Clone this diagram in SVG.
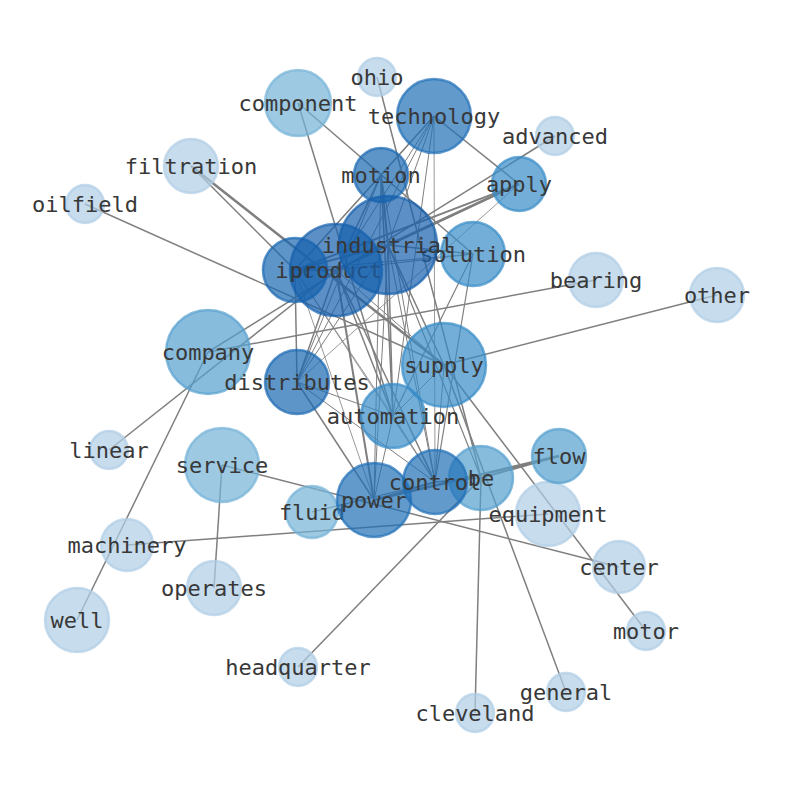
<svg xmlns="http://www.w3.org/2000/svg" width="794" height="790" viewBox="0 0 794 790">
<style>
.edges line{stroke:#7f7f7f;fill:none;stroke-linecap:butt}
.node circle{stroke-width:2.5;fill-opacity:0.7;stroke-opacity:0.7}
.L circle{fill:#afcde5;stroke:#afcde5}
.ML circle{fill:#73b2d7;stroke:#73b2d7}
.ML2 circle{fill:#559fce;stroke:#559fce}
.M circle{fill:#368bc7;stroke:#368bc7}
.D2 circle{fill:#1f6fb7;stroke:#1f6fb7}
.D3 circle{fill:#1a68b2;stroke:#1a68b2}
.D4 circle{fill:#1660ad;stroke:#1660ad}
.node text{font-family:"DejaVu Sans Mono","Liberation Mono",monospace;font-size:22px;fill:#383838;text-anchor:middle;dominant-baseline:central}
</style>
<rect width="794" height="790" fill="#ffffff"/>
<g id="connectors" class="edges">
<line x1="377" y1="77" x2="481" y2="478" stroke-width="1.5"/>
<line x1="298" y1="103" x2="473" y2="254" stroke-width="1.5"/>
<line x1="298" y1="103" x2="393" y2="416" stroke-width="1.5"/>
<line x1="434" y1="116" x2="519" y2="184" stroke-width="1.5"/>
<line x1="555" y1="136" x2="208" y2="352" stroke-width="1.5"/>
<line x1="191" y1="166" x2="444" y2="365" stroke-width="2.5"/>
<line x1="191" y1="166" x2="295" y2="270" stroke-width="1.5"/>
<line x1="85" y1="204" x2="444" y2="365" stroke-width="1.5"/>
<line x1="596" y1="280" x2="208" y2="352" stroke-width="1.5"/>
<line x1="717" y1="295" x2="444" y2="365" stroke-width="1.5"/>
<line x1="109" y1="450" x2="336" y2="270" stroke-width="1.5"/>
<line x1="77" y1="620" x2="208" y2="352" stroke-width="1.5"/>
<line x1="222" y1="465" x2="214" y2="588" stroke-width="1.5"/>
<line x1="222" y1="465" x2="619" y2="567" stroke-width="1.5"/>
<line x1="127" y1="545" x2="548" y2="514" stroke-width="1.5"/>
<line x1="298" y1="667" x2="481" y2="478" stroke-width="1.5"/>
<line x1="475" y1="713" x2="481" y2="478" stroke-width="1.5"/>
<line x1="566" y1="692" x2="444" y2="365" stroke-width="1.5"/>
<line x1="646" y1="631" x2="444" y2="365" stroke-width="1.5"/>
<line x1="559" y1="456" x2="374" y2="500" stroke-width="2.5"/>
<line x1="312" y1="512" x2="435" y2="482" stroke-width="1.2"/>
<line x1="434" y1="116" x2="381" y2="175" stroke-width="1.5"/>
<line x1="434" y1="116" x2="388" y2="245" stroke-width="1"/>
<line x1="434" y1="116" x2="336" y2="270" stroke-width="1"/>
<line x1="434" y1="116" x2="295" y2="270" stroke-width="1"/>
<line x1="434" y1="116" x2="297" y2="382" stroke-width="1"/>
<line x1="434" y1="116" x2="393" y2="416" stroke-width="1"/>
<line x1="434" y1="116" x2="435" y2="482" stroke-width="0.8"/>
<line x1="381" y1="175" x2="388" y2="245" stroke-width="2"/>
<line x1="381" y1="175" x2="336" y2="270" stroke-width="1.5"/>
<line x1="381" y1="175" x2="295" y2="270" stroke-width="1.5"/>
<line x1="381" y1="175" x2="297" y2="382" stroke-width="1"/>
<line x1="381" y1="175" x2="393" y2="416" stroke-width="1.5"/>
<line x1="381" y1="175" x2="435" y2="482" stroke-width="1"/>
<line x1="381" y1="175" x2="374" y2="500" stroke-width="1"/>
<line x1="388" y1="245" x2="519" y2="184" stroke-width="2.5"/>
<line x1="336" y1="270" x2="519" y2="184" stroke-width="2"/>
<line x1="295" y1="270" x2="519" y2="184" stroke-width="2"/>
<line x1="297" y1="382" x2="519" y2="184" stroke-width="0.8"/>
<line x1="388" y1="245" x2="473" y2="254" stroke-width="1.5"/>
<line x1="336" y1="270" x2="473" y2="254" stroke-width="1"/>
<line x1="295" y1="270" x2="473" y2="254" stroke-width="1"/>
<line x1="388" y1="245" x2="336" y2="270" stroke-width="2"/>
<line x1="388" y1="245" x2="295" y2="270" stroke-width="2"/>
<line x1="336" y1="270" x2="295" y2="270" stroke-width="2.5"/>
<line x1="388" y1="245" x2="297" y2="382" stroke-width="1"/>
<line x1="336" y1="270" x2="297" y2="382" stroke-width="1.5"/>
<line x1="295" y1="270" x2="297" y2="382" stroke-width="1.5"/>
<line x1="388" y1="245" x2="444" y2="365" stroke-width="1.5"/>
<line x1="336" y1="270" x2="444" y2="365" stroke-width="1"/>
<line x1="388" y1="245" x2="393" y2="416" stroke-width="1.5"/>
<line x1="336" y1="270" x2="393" y2="416" stroke-width="1.5"/>
<line x1="295" y1="270" x2="393" y2="416" stroke-width="0.8"/>
<line x1="388" y1="245" x2="435" y2="482" stroke-width="1"/>
<line x1="336" y1="270" x2="435" y2="482" stroke-width="1.5"/>
<line x1="295" y1="270" x2="435" y2="482" stroke-width="0.8"/>
<line x1="388" y1="245" x2="374" y2="500" stroke-width="1"/>
<line x1="336" y1="270" x2="374" y2="500" stroke-width="2"/>
<line x1="295" y1="270" x2="374" y2="500" stroke-width="0.8"/>
<line x1="388" y1="245" x2="481" y2="478" stroke-width="1.2"/>
<line x1="473" y1="254" x2="393" y2="416" stroke-width="1.2"/>
<line x1="473" y1="254" x2="435" y2="482" stroke-width="1.2"/>
<line x1="444" y1="365" x2="393" y2="416" stroke-width="1"/>
<line x1="444" y1="365" x2="435" y2="482" stroke-width="1"/>
<line x1="297" y1="382" x2="393" y2="416" stroke-width="1"/>
<line x1="297" y1="382" x2="435" y2="482" stroke-width="1"/>
<line x1="297" y1="382" x2="374" y2="500" stroke-width="1.5"/>
<line x1="393" y1="416" x2="435" y2="482" stroke-width="1"/>
<line x1="393" y1="416" x2="374" y2="500" stroke-width="1"/>
<line x1="435" y1="482" x2="374" y2="500" stroke-width="2"/>
<line x1="435" y1="482" x2="481" y2="478" stroke-width="1.5"/>
<line x1="481" y1="478" x2="559" y2="456" stroke-width="2"/>
</g>
<g id="nodes">
<g id="ohio" class="node L"><circle cx="377" cy="77" r="19"/><text x="377" y="77">ohio</text></g>
<g id="advanced" class="node L"><circle cx="555" cy="136" r="19"/><text x="555" y="136">advanced</text></g>
<g id="oilfield" class="node L"><circle cx="85" cy="204" r="19"/><text x="85" y="204">oilfield</text></g>
<g id="filtration" class="node L"><circle cx="191" cy="166" r="27"/><text x="191" y="166">filtration</text></g>
<g id="bearing" class="node L"><circle cx="596" cy="280" r="27"/><text x="596" y="280">bearing</text></g>
<g id="other" class="node L"><circle cx="717" cy="295" r="27"/><text x="717" y="295">other</text></g>
<g id="linear" class="node L"><circle cx="109" cy="450" r="19"/><text x="109" y="450">linear</text></g>
<g id="machinery" class="node L"><circle cx="127" cy="545" r="26"/><text x="127" y="545">machinery</text></g>
<g id="operates" class="node L"><circle cx="214" cy="588" r="27"/><text x="214" y="588">operates</text></g>
<g id="well" class="node L"><circle cx="77" cy="620" r="32"/><text x="77" y="620">well</text></g>
<g id="center" class="node L"><circle cx="619" cy="567" r="26"/><text x="619" y="567">center</text></g>
<g id="motor" class="node L"><circle cx="646" cy="631" r="19"/><text x="646" y="631">motor</text></g>
<g id="headquarter" class="node L"><circle cx="298" cy="667" r="19"/><text x="298" y="667">headquarter</text></g>
<g id="general" class="node L"><circle cx="566" cy="692" r="19"/><text x="566" y="692">general</text></g>
<g id="cleveland" class="node L"><circle cx="475" cy="713" r="19"/><text x="475" y="713">cleveland</text></g>
<g id="equipment" class="node L"><circle cx="548" cy="514" r="32"/><text x="548" y="514">equipment</text></g>
<g id="component" class="node ML"><circle cx="298" cy="103" r="33"/><text x="298" y="103">component</text></g>
<g id="company" class="node ML2"><circle cx="208" cy="352" r="42"/><text x="208" y="352">company</text></g>
<g id="service" class="node ML"><circle cx="222" cy="465" r="37"/><text x="222" y="465">service</text></g>
<g id="technology" class="node D2"><circle cx="434" cy="116" r="37"/><text x="434" y="116">technology</text></g>
<g id="motion" class="node D3"><circle cx="381" cy="175" r="27"/><text x="381" y="175">motion</text></g>
<g id="apply" class="node M"><circle cx="519" cy="184" r="27"/><text x="519" y="184">apply</text></g>
<g id="supply" class="node M"><circle cx="444" cy="365" r="42"/><text x="444" y="365">supply</text></g>
<g id="distributes" class="node D3"><circle cx="297" cy="382" r="32"/><text x="297" y="382">distributes</text></g>
<g id="automation" class="node M"><circle cx="393" cy="416" r="32"/><text x="393" y="416">automation</text></g>
<g id="flow" class="node ML2"><circle cx="559" cy="456" r="27"/><text x="559" y="456">flow</text></g>
<g id="ipc" class="node D3"><circle cx="295" cy="270" r="32"/><text x="295" y="270">ipc</text></g>
<g id="solution" class="node M"><circle cx="473" cy="254" r="32"/><text x="473" y="254">solution</text></g>
<g id="product" class="node D4"><circle cx="336" cy="270" r="46"/><text x="336" y="270">product</text></g>
<g id="industrial" class="node D4"><circle cx="388" cy="245" r="49"/><text x="388" y="245">industrial</text></g>
<g id="fluid" class="node ML"><circle cx="312" cy="512" r="26"/><text x="312" y="512">fluid</text></g>
<g id="power" class="node D2"><circle cx="374" cy="500" r="37"/><text x="374" y="500">power</text></g>
<g id="be" class="node ML2"><circle cx="481" cy="478" r="32"/><text x="481" y="478">be</text></g>
<g id="control" class="node D2"><circle cx="435" cy="482" r="32"/><text x="435" y="482">control</text></g>
</g>
</svg>
